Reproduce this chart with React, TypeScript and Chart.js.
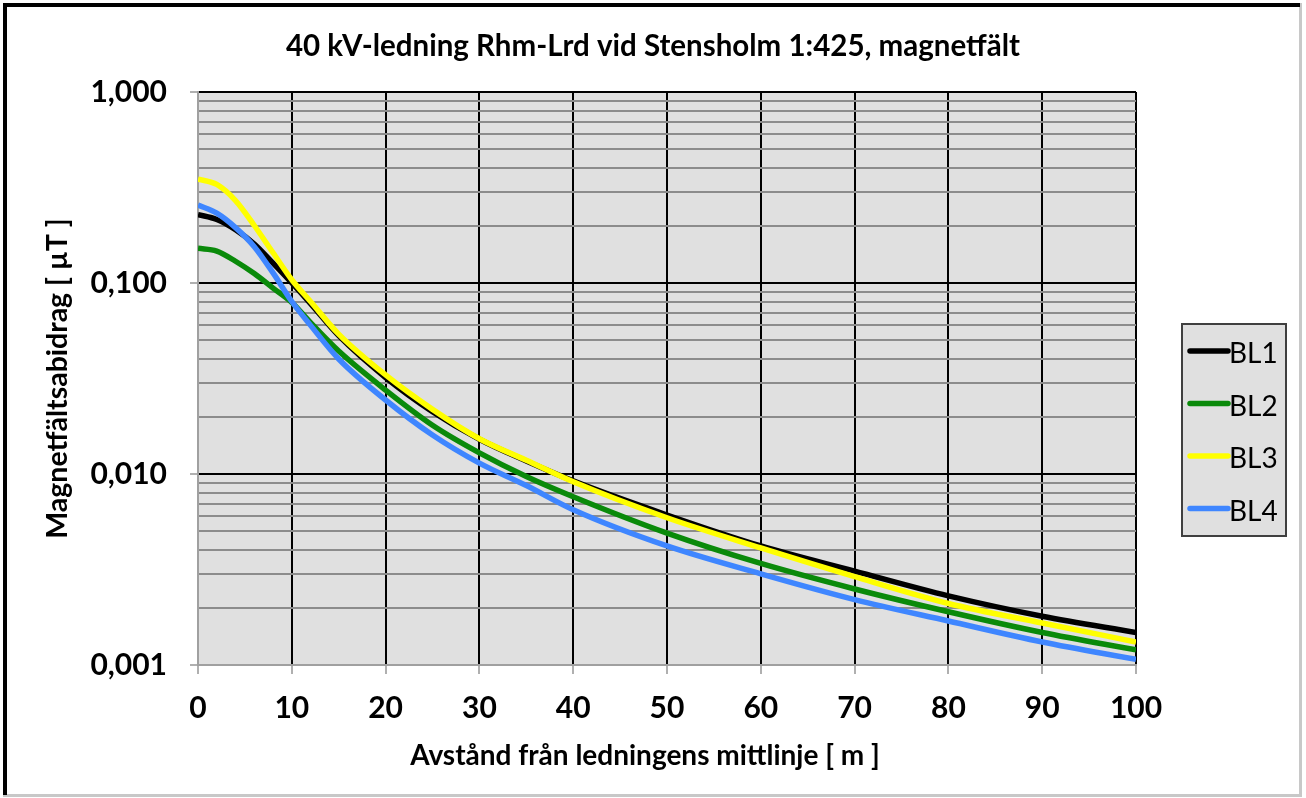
import React, { useEffect, useRef } from "react";
import { Chart, registerables } from "chart.js";

Chart.register(...registerables);

const titleText = "40 kV-ledning Rhm-Lrd vid Stensholm 1:425, magnetfält";
const xTitle = "Avstånd från ledningens mittlinje [ m ]";
const yTitle = "Magnetfältsabidrag [ µT ]";

const distances = [0, 2, 4, 6, 8, 10, 12, 15, 20, 25, 30, 35, 40, 50, 60, 70, 80, 90, 100];
const bl1 = [0.228, 0.215, 0.19, 0.16, 0.127, 0.1, 0.078, 0.053, 0.032, 0.0212, 0.0152, 0.0117, 0.0092, 0.0061, 0.0042, 0.0031, 0.0023, 0.0018, 0.00148];
const bl2 = [0.152, 0.147, 0.13, 0.112, 0.094, 0.079, 0.062, 0.044, 0.0275, 0.018, 0.0129, 0.0097, 0.0076, 0.0049, 0.0034, 0.0025, 0.0019, 0.00148, 0.0012];
const bl3 = [0.35, 0.328, 0.27, 0.2, 0.144, 0.104, 0.08, 0.054, 0.033, 0.0218, 0.0153, 0.0118, 0.0091, 0.0059, 0.0041, 0.0029, 0.0021, 0.00166, 0.00132];
const bl4 = [0.256, 0.232, 0.195, 0.155, 0.113, 0.08, 0.06, 0.04, 0.0244, 0.016, 0.0114, 0.0087, 0.0065, 0.0042, 0.003, 0.0022, 0.0017, 0.00132, 0.00107];

const seriesNames = ["BL1", "BL2", "BL3", "BL4"];
const seriesValues = [bl1, bl2, bl3, bl4];
const seriesColors = ["#000000", "#0a8a0a", "#ffff00", "#3f86ff"];

const yMajorValues = [0.001, 0.01, 0.1, 1];
const yMajorLabels = ["0,001", "0,010", "0,100", "1,000"];
const yMinorMultipliers = [2, 3, 4, 5, 6, 7, 8, 9];
const xTickValues = [0, 10, 20, 30, 40, 50, 60, 70, 80, 90, 100];

const FONT = "Lato, 'Noto Sans', sans-serif";

function isMajor(v: number) {
  return yMajorValues.some((m) => Math.abs(v - m) / m < 1e-6);
}

export default function App() {
  const ref = useRef<HTMLCanvasElement | null>(null);

  useEffect(() => {
    if (!ref.current) return;

    const framePlugin = {
      id: "frameAndBg",
      beforeDraw(chart: any) {
        const ctx = chart.ctx;
        const { left, top, right, bottom } = chart.chartArea;
        ctx.save();
        ctx.fillStyle = "#ffffff";
        ctx.fillRect(0, 0, chart.width, chart.height);
        // outer frame
        ctx.fillStyle = "#c8c8c8";
        ctx.fillRect(1299, 3, 3, 794);
        ctx.fillRect(3, 794, 1299, 3);
        ctx.fillStyle = "#000000";
        ctx.fillRect(3, 3, 1297, 4);
        ctx.fillRect(3, 3, 4, 792);
        // plot background
        ctx.fillStyle = "#e0e0e0";
        ctx.fillRect(left, top, right - left, bottom - top);
        ctx.restore();
      },
      afterDraw(chart: any) {
        const ctx = chart.ctx;
        const { right, top } = chart.chartArea;
        ctx.save();
        // chart title
        ctx.fillStyle = "#000";
        ctx.textAlign = "center";
        ctx.textBaseline = "middle";
        ctx.font = `bold 29.5px ${FONT}`;
        ctx.fillText(titleText, chart.width / 2, 46);
        // x axis title
        ctx.font = `bold 28px ${FONT}`;
        ctx.fillText(xTitle, 645, 756);

        // legend
        const bx = right + 46;
        const bw = 104;
        const itemGap = 52.5;
        const bh = 212;
        const by = top + 232;
        ctx.fillStyle = "#e0e0e0";
        ctx.fillRect(bx, by, bw, bh);
        ctx.strokeStyle = "#404040";
        ctx.lineWidth = 2;
        ctx.strokeRect(bx, by, bw, bh);
        ctx.font = `28px ${FONT}`;
        ctx.textBaseline = "middle";
        ctx.textAlign = "left";
        seriesNames.forEach((name, i) => {
          const y = by + 27 + i * itemGap;
          ctx.strokeStyle = seriesColors[i];
          ctx.lineWidth = 5.5;
          ctx.lineCap = "round";
          ctx.beginPath();
          ctx.moveTo(bx + 8, y);
          ctx.lineTo(bx + 46, y);
          ctx.stroke();
          ctx.fillStyle = "#000000";
          ctx.fillText(name, bx + 47, y + 3);
        });
        ctx.restore();
      },
    };

    const chart = new Chart(ref.current, {
      type: "line",
      data: {
        datasets: seriesNames.map((name, i) => ({
          label: name,
          data: distances.map((d, j) => ({ x: d, y: seriesValues[i][j] })),
          borderColor: seriesColors[i],
          backgroundColor: seriesColors[i],
          borderWidth: 5.5,
          pointRadius: 0,
          cubicInterpolationMode: "monotone" as const,
          fill: false,
          order: seriesNames.length - i,
        })),
      },
      options: {
        animation: false,
        responsive: false,
        layout: { padding: { left: 0, right: 170, top: 92, bottom: 0 } },
        plugins: {
          legend: { display: false },
          tooltip: { enabled: false },
          title: { display: false },
        },
        scales: {
          x: {
            type: "linear",
            min: 0,
            max: 100,
            afterBuildTicks: (scale: any) => {
              scale.ticks = xTickValues.map((v) => ({ value: v }));
            },
            afterFit: (scale: any) => {
              scale.height = 133;
            },
            ticks: {
              color: "#000",
              font: { family: FONT, size: 30, weight: "bold" },
              padding: 16,
              maxRotation: 0,
              autoSkip: false,
            },
            grid: {
              color: (ctx: any) => (ctx.tick && ctx.tick.value === 0 ? "#a0a0a0" : "#000000"),
              lineWidth: 2,
              tickLength: 9,
              tickColor: "#b0b0b0",
              drawTicks: true,
            },
            border: { color: "#a0a0a0", width: 2 },
            title: { display: false },
          },
          y: {
            type: "logarithmic",
            min: 0.001,
            max: 1,
            afterBuildTicks: (scale: any) => {
              const t: any[] = [];
              for (let k = 0; k < yMajorValues.length; k++) {
                const m = yMajorValues[k];
                t.push({ value: m, major: true });
                if (k < yMajorValues.length - 1) {
                  yMinorMultipliers.forEach((mul) => t.push({ value: +(m * mul).toPrecision(6), major: false }));
                }
              }
              scale.ticks = t;
            },
            afterFit: (scale: any) => {
              scale.width = 198;
            },
            ticks: {
              color: "#000",
              font: { family: FONT, size: 30, weight: "bold" },
              padding: 23,
              autoSkip: false,
              callback: (value: any) => {
                const idx = yMajorValues.findIndex((m) => Math.abs(Number(value) - m) / m < 1e-6);
                return idx >= 0 ? yMajorLabels[idx] : "";
              },
            },
            grid: {
              color: (ctx: any) => {
                const v = ctx.tick ? ctx.tick.value : 0;
                if (Math.abs(v - 0.001) < 1e-9) return "#a0a0a0";
                return isMajor(v) ? "#000000" : "#8c8c8c";
              },
              lineWidth: 2,
              tickLength: 8,
              tickColor: (ctx: any) => (ctx.tick && isMajor(ctx.tick.value) ? "#b0b0b0" : "rgba(0,0,0,0)"),
              drawTicks: true,
            },
            border: { color: "#a0a0a0", width: 2 },
            title: {
              display: true,
              text: yTitle,
              color: "#000",
              font: { family: FONT, size: 28.5, weight: "bold" },
              padding: { top: 41, bottom: 0 },
            },
          },
        },
      },
      plugins: [framePlugin],
    } as any);

    return () => chart.destroy();
  }, []);

  return (
    <div style={{ position: "fixed", left: 0, top: 0, width: 1306, height: 798 }}>
      <canvas ref={ref} width={1306} height={798} style={{ display: "block" }} />
    </div>
  );
}
